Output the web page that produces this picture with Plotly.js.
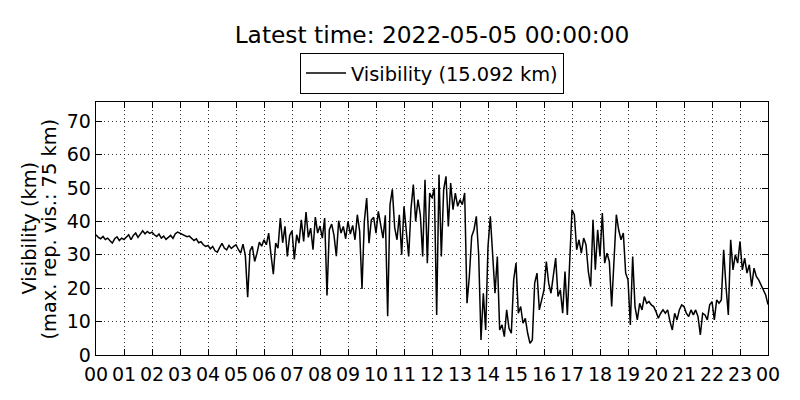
<!DOCTYPE html>
<html>
<head>
<meta charset="utf-8">
<script src="https://cdn.plot.ly/plotly-3.0.1.min.js"></script>
<style>html,body{margin:0;padding:0;background:#fff;}#chart{width:800px;height:400px;}</style>
</head>
<body>
<div id="chart"></div>
<script>
// Visibility (km), 5-minute readings
const vis00to06 = [
  36.0, 35.2, 34.8, 35.5, 34.6, 35.0, 34.2, 33.5, 34.8, 35.4, 34.3, 35.0,
  34.6, 35.3, 36.0, 34.5, 35.8, 36.5, 35.2, 36.2, 37.2, 36.3, 37.0, 36.4,
  36.8, 36.0, 35.5, 36.2, 35.0, 35.6, 34.6, 35.2, 35.8, 34.9, 36.3, 36.8,
  36.5, 36.2, 35.8, 35.4, 35.6, 34.9, 34.3, 34.8, 33.6, 33.9, 33.0, 32.5,
  32.8, 31.8, 32.5, 31.2, 30.8, 32.2, 33.4, 32.0, 31.5, 32.8, 31.9, 32.5,
  33.0, 31.6, 30.5, 33.2, 29.8, 17.3, 31.2, 32.5, 28.0, 30.5, 33.8, 32.6
];
const vis06to12 = [
  34.5, 33.0, 36.5, 30.0, 24.2, 33.5, 32.0, 41.0, 33.6, 38.5, 29.5, 35.8,
  37.2, 28.6, 36.0, 33.5, 40.5, 34.0, 42.8, 35.2, 38.0, 31.5, 41.3, 36.5,
  38.6, 35.0, 41.0, 17.8, 37.5, 39.2, 35.8, 29.6, 40.2, 36.5, 38.5, 34.8,
  40.0, 36.2, 38.8, 34.5, 42.0, 37.0, 19.8, 40.0, 47.0, 33.5, 40.5, 41.2,
  36.5, 43.0, 39.5, 35.0, 41.8, 11.6, 45.0, 49.6, 38.2, 34.5, 42.0, 30.0,
  44.5, 38.0, 29.5, 43.8, 51.0, 40.0, 46.5, 42.0, 29.5, 52.5, 27.5, 48.5
];
const vis12to18 = [
  47.0, 50.0, 12.0, 54.0, 29.5, 49.5, 53.5, 38.5, 51.5, 43.5, 48.5, 44.5,
  46.5, 45.0, 48.5, 15.5, 23.5, 35.5, 37.5, 41.5, 30.0, 4.5, 18.5, 7.5,
  32.5, 41.5, 30.5, 18.5, 29.5, 7.5, 9.0, 5.5, 13.5, 8.0, 6.5, 22.5,
  27.5, 12.5, 14.5, 9.5, 11.0, 6.5, 3.5, 4.5, 21.5, 24.5, 13.5, 16.5,
  19.5, 28.0, 21.5, 18.5, 23.5, 29.0, 17.5, 19.5, 12.5, 25.0, 12.0, 30.5,
  43.5, 42.0, 31.5, 34.5, 30.5, 35.0, 33.0, 25.0, 20.5, 40.5, 25.5, 37.5
];
const vis18to24 = [
  29.5, 42.5, 27.5, 30.5, 28.0, 14.5, 28.5, 42.0, 37.5, 34.5, 36.5, 24.5,
  22.5, 9.0, 29.5, 14.5, 10.5, 15.5, 13.5, 17.5, 15.5, 16.0, 15.0, 14.5,
  13.0, 11.0, 12.5, 13.5, 12.5, 13.5, 10.0, 7.5, 12.5, 10.5, 13.5, 15.0,
  14.5, 12.5, 11.5, 13.5, 12.0, 13.5, 11.5, 6.0, 12.5, 12.0, 10.5, 15.0,
  16.0, 10.5, 16.5, 15.5, 16.5, 31.5, 20.5, 12.0, 34.5, 25.5, 30.0, 27.5,
  34.0, 25.5, 29.0, 24.5, 27.0, 20.5, 26.0, 23.5, 22.5, 21.0, 19.5, 18.0
];
const latestValue = [15.092];

const startTime = Date.UTC(2022, 4, 4, 0, 0);
const stepMinutes = 5;
const yTickVals = [0, 10, 20, 30, 40, 50, 60, 70];
const titleText = 'Latest time: 2022-05-05 00:00:00';
const seriesName = 'Visibility (15.092 km)';
const yTitle1 = 'Visibility (km)';
const yTitle2 = '(max. rep. vis.: 75 km)';

const values = [].concat(vis00to06, vis06to12, vis12to18, vis18to24, latestValue);
const times = values.map((_, i) =>
  new Date(startTime + i * stepMinutes * 60000).toISOString().slice(0, 16).replace('T', ' '));

const FONT = 'DejaVu Sans, Liberation Sans, sans-serif';
const trace = {
  x: times, y: values, type: 'scatter', mode: 'lines', name: seriesName,
  line: {color: '#000', width: 1.5}, showlegend: true
};
const axisCommon = {
  showline: true, linecolor: '#000', linewidth: 1.3, mirror: 'ticks',
  ticks: 'inside', ticklen: 6, tickwidth: 1, tickcolor: '#000',
  showgrid: true, gridcolor: '#333', gridwidth: 1, griddash: '1px,3px',
  zeroline: false, tickfont: {family: FONT, size: 19, color: '#000'}
};
const layout = {
  width: 800, height: 400,
  margin: {l: 96, r: 32, t: 102, b: 45, pad: 0},
  paper_bgcolor: '#fff', plot_bgcolor: '#fff',
  font: {family: FONT, color: '#000'},
  title: {text: titleText, font: {family: FONT, size: 23.3, color: '#000'},
          x: 0.5, xref: 'paper', xanchor: 'center', y: 0.9125, yref: 'container', yanchor: 'middle'},
  showlegend: true,
  legend: {x: 0.5, xref: 'paper', xanchor: 'center', y: 0.8675, yref: 'container', yanchor: 'top',
           orientation: 'h', bordercolor: '#000', borderwidth: 1, bgcolor: '#fff', itemwidth: 40,
           font: {family: FONT, size: 19.4, color: '#000'}},
  xaxis: Object.assign({}, axisCommon, {
    type: 'date', range: ['2022-05-04 00:00', '2022-05-05 00:00'],
    dtick: 3600000, tick0: '2022-05-04 00:00', tickformat: '%H', ticklabelstandoff: 2
  }),
  yaxis: Object.assign({}, axisCommon, {
    range: [0, 75.75], tickvals: yTickVals, ticktext: yTickVals.map(String)
  }),
  annotations: [
    {text: yTitle1, xref: 'paper', yref: 'paper', x: -0.0997, y: 0.5, xanchor: 'center', yanchor: 'middle',
     textangle: -90, showarrow: false, font: {family: FONT, size: 19.4, color: '#000'}},
    {text: yTitle2, xref: 'paper', yref: 'paper', x: -0.0685, y: 0.5, xanchor: 'center', yanchor: 'middle',
     textangle: -90, showarrow: false, font: {family: FONT, size: 19.4, color: '#000'}}
  ]
};
Plotly.newPlot('chart', [trace], layout, {displayModeBar: false, staticPlot: true});
</script>
</body>
</html>
